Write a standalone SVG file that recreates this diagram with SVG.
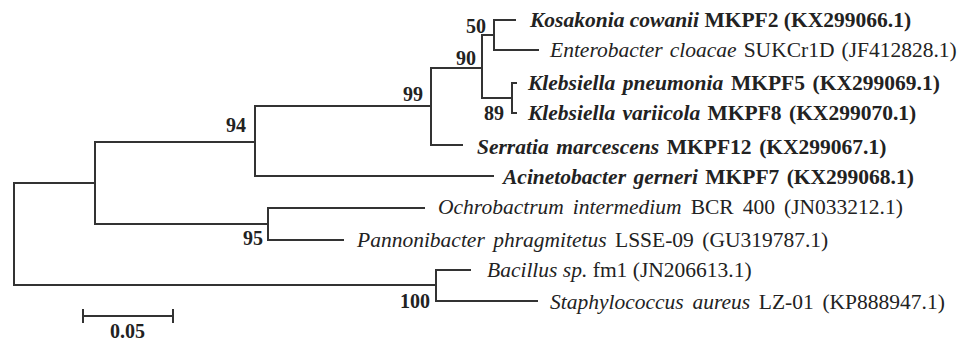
<svg xmlns="http://www.w3.org/2000/svg" width="964" height="343" viewBox="0 0 964 343">
<style>
.br{fill:none;stroke:#333;stroke-width:2;stroke-linecap:square}
.t{font-family:"Liberation Serif",serif;font-size:21.5px;fill:#222}
.b{font-weight:bold}
.i{font-style:italic}
.n{font-family:"Liberation Serif",serif;font-size:20px;font-weight:bold;fill:#222;text-anchor:end}
</style>
<rect width="964" height="343" fill="#fff"/>
<g id="connectors">
<path class="br" d="M95,183H14V285H436"/>
<path class="br" d="M255,142H95V224H268"/>
<path class="br" d="M431,106H255V176H493"/>
<path class="br" d="M482,68H431V145H462"/>
<path class="br" d="M494,35H482V98H512"/>
<path class="br" d="M515,20H494V50H538"/>
<path class="br" d="M516,83H512V113H516"/>
<path class="br" d="M424,208H268V240H343"/>
<path class="br" d="M470,270H436V301H537"/>
<path class="br" d="M83,316H173M83,310V322M173,310V322"/>
</g>
<g id="leaf-kosakonia"><text class="t b" x="530" y="27"><tspan class="i">Kosakonia cowanii</tspan> MKPF2 (KX299066.1)</text></g>
<g id="leaf-enterobacter"><text class="t" x="550" y="57" word-spacing="1.7"><tspan class="i">Enterobacter cloacae</tspan> SUKCr1D (JF412828.1)</text></g>
<g id="leaf-kpneumonia"><text class="t b" x="528" y="90" word-spacing="2.3"><tspan class="i">Klebsiella pneumonia</tspan> MKPF5 (KX299069.1)</text></g>
<g id="leaf-kvariicola"><text class="t b" x="528" y="120" word-spacing="2"><tspan class="i">Klebsiella variicola</tspan> MKPF8 (KX299070.1)</text></g>
<g id="leaf-serratia"><text class="t b" x="477" y="154" word-spacing="2.3"><tspan class="i">Serratia marcescens</tspan> MKPF12 (KX299067.1)</text></g>
<g id="leaf-acinetobacter"><text class="t b" x="503" y="184" word-spacing="2"><tspan class="i">Acinetobacter gerneri</tspan> MKPF7 (KX299068.1)</text></g>
<g id="leaf-ochrobactrum"><text class="t" x="438" y="214" word-spacing="3.7"><tspan class="i">Ochrobactrum intermedium</tspan> BCR 400 (JN033212.1)</text></g>
<g id="leaf-pannonibacter"><text class="t" x="357" y="247" word-spacing="3"><tspan class="i">Pannonibacter phragmitetus</tspan> LSSE-09 (GU319787.1)</text></g>
<g id="leaf-bacillus"><text class="t" x="487" y="277"><tspan class="i">Bacillus sp.</tspan> fm1 (JN206613.1)</text></g>
<g id="leaf-staphylococcus"><text class="t" x="550" y="309" word-spacing="3.3"><tspan class="i">Staphylococcus aureus</tspan> LZ-01 (KP888947.1)</text></g>
<g id="bootstrap">
<text class="n" x="486" y="33">50</text>
<text class="n" x="476" y="65">90</text>
<text class="n" x="423" y="101">99</text>
<text class="n" x="504" y="120">89</text>
<text class="n" x="246" y="132">94</text>
<text class="n" x="263" y="245">95</text>
<text class="n" x="430" y="308">100</text>
</g>
<g id="scale"><text class="n" x="127.5" y="338" style="text-anchor:middle">0.05</text></g>
</svg>
